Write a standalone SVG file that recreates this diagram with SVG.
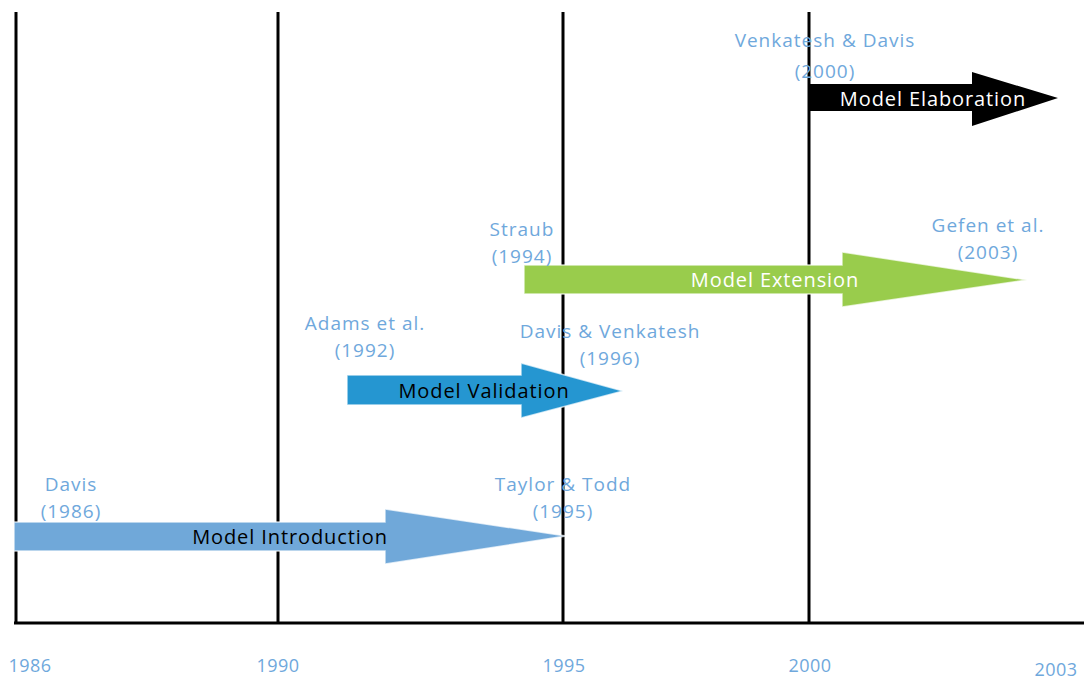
<svg xmlns="http://www.w3.org/2000/svg" width="1084" height="681" viewBox="0 0 1084 681">
  <style>
    .grid { stroke: #000; stroke-width: 3; fill: none; }
    .lbl { font-family: "Open Sans", "Liberation Sans", sans-serif; font-size: 19px; fill: #6fa8dc; text-anchor: middle; letter-spacing: 1px; }
    .yr { font-family: "Open Sans", "Liberation Sans", sans-serif; font-size: 18px; fill: #6fa8dc; text-anchor: middle; letter-spacing: 0.4px; }
    .atxt { font-family: "Open Sans", "Liberation Sans", sans-serif; font-size: 20px; text-anchor: middle; letter-spacing: 0.9px; }
    .arrow { stroke: #ffffff; stroke-opacity: 0.7; stroke-width: 1.5; }
  </style>
  <rect width="1084" height="681" fill="#ffffff"/>

  <!-- timeline grid -->
  <g id="grid">
    <line class="grid" x1="16" y1="12" x2="16" y2="623"/>
    <line class="grid" x1="278" y1="12" x2="278" y2="623"/>
    <line class="grid" x1="563" y1="12" x2="563" y2="623"/>
    <line class="grid" x1="809" y1="12" x2="809" y2="623"/>
    <line class="grid" x1="14" y1="623" x2="1084" y2="623"/>
  </g>

  <!-- year axis -->
  <g id="axis">
    <text class="yr" x="30" y="672">1986</text>
    <text class="yr" x="278" y="672">1990</text>
    <text class="yr" x="564" y="672">1995</text>
    <text class="yr" x="810" y="672">2000</text>
    <text class="yr" x="1056" y="676">2003</text>
  </g>

  <!-- phase arrows -->
  <g id="connectors">
    <g id="introduction">
      <polygon class="arrow" fill="#70a8d9" points="14,522 385,522 385,509 566,536 385,564 385,551 14,551"/>
      <text class="atxt" x="290" y="544" fill="#000">Model Introduction</text>
    </g>
    <g id="validation">
      <polygon class="arrow" fill="#2596d1" points="347,375 521,375 521,363 623,391 521,418 521,405 347,405"/>
      <text class="atxt" x="484" y="398" fill="#000">Model Validation</text>
    </g>
    <g id="extension">
      <polygon class="arrow" fill="#99cc4c" points="524,265 842,265 842,252 1027,280 842,307 842,294 524,294"/>
      <text class="atxt" x="775" y="287" fill="#ffffff">Model Extension</text>
    </g>
    <g id="elaboration">
      <polygon fill="#000000" points="809,84 972,84 972,72 1058,98 972,126 972,111 809,111"/>
      <text class="atxt" x="933" y="106" fill="#ffffff">Model Elaboration</text>
    </g>
  </g>

  <!-- citation labels -->
  <g id="davis1986">
    <text class="lbl" x="71" y="491">Davis</text>
    <text class="lbl" x="71" y="518">(1986)</text>
  </g>
  <g id="adams1992">
    <text class="lbl" x="365" y="330">Adams et al.</text>
    <text class="lbl" x="365" y="357">(1992)</text>
  </g>
  <g id="davis-venkatesh1996">
    <text class="lbl" x="610" y="338">Davis &amp; Venkatesh</text>
    <text class="lbl" x="610" y="365">(1996)</text>
  </g>
  <g id="straub1994">
    <text class="lbl" x="522" y="236">Straub</text>
    <text class="lbl" x="522" y="263">(1994)</text>
  </g>
  <g id="taylor-todd1995">
    <text class="lbl" x="563" y="491">Taylor &amp; Todd</text>
    <text class="lbl" x="563" y="518">(1995)</text>
  </g>
  <g id="gefen2003">
    <text class="lbl" x="988" y="232">Gefen et al.</text>
    <text class="lbl" x="988" y="259">(2003)</text>
  </g>
  <g id="venkatesh-davis2000">
    <text class="lbl" x="825" y="47">Venkatesh &amp; Davis</text>
    <text class="lbl" x="825" y="78">(2000)</text>
  </g>
</svg>
